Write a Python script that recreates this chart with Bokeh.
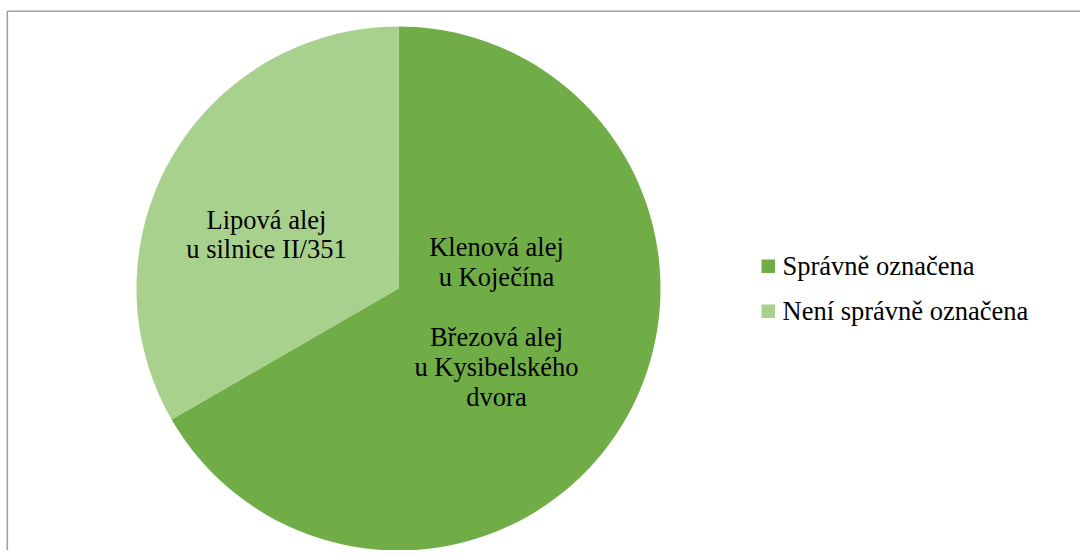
from bokeh.plotting import figure
from bokeh.models import Range1d, ColumnDataSource
from bokeh.core.properties import value
from bokeh.embed import file_html
from bokeh.resources import INLINE
import math

# ---- data ----
categories = ["Správně označena", "Není správně označena"]
counts = [2, 1]
colors = ["#70AD47", "#A9D18E"]
slice_labels = [
    ["Klenová alej", "u Koječína", "", "Březová alej", "u Kysibelského", "dvora"],
    ["Lipová alej", "u silnice II/351"],
]

# ---- layout (canvas pixels, y measured upward from bottom) ----
W, H = 1080, 550
TEXT_SHIFT = 9  # compensates the renderer's baseline offset

def Y(screen_y):
    return H - screen_y

def TY(screen_baseline):
    return H - (screen_baseline - TEXT_SHIFT)

cx, cy, r = 398, Y(288), 262
FONT = value("Liberation Serif")
FS = "26.5px"

p = figure(width=W, height=H, x_range=Range1d(0, W), y_range=Range1d(0, H),
           output_backend="svg", toolbar_location=None, min_border=0)
p.axis.visible = False
p.grid.visible = False
p.outline_line_color = None
p.background_fill_color = "white"
p.border_fill_color = "white"

# chart border (partially outside the window like in the reference)
p.line([6.8, 6.8, W], [0, Y(10.8), Y(10.8)], line_color="#A0A0A0", line_width=1.6)

# pie wedges, clockwise from 12 o'clock
total = sum(counts)
starts, ends = [], []
a = math.pi / 2
for c in counts:
    sweep = 2 * math.pi * c / total
    ends.append(a)
    starts.append(a - sweep)
    a -= sweep
src = ColumnDataSource(dict(start=starts, end=ends, color=colors))
p.wedge(x=cx, y=cy, radius=r, start_angle="start", end_angle="end",
        direction="anticlock", fill_color="color", line_color=None, source=src)

# data labels
label_pos = [(496, 255, 30), (266, 228, 29.5)]
for lines, (lx, base, lh) in zip(slice_labels, label_pos):
    xs, ys, ts = [], [], []
    for i, t in enumerate(lines):
        if t:
            xs.append(lx)
            ys.append(TY(base + i * lh))
            ts.append(t)
    p.text(x=xs, y=ys, text=ts, text_font=FONT, text_font_size=FS,
           text_align="center", text_baseline="alphabetic", text_color="black")

# legend
leg_x, leg_sq, leg_y0, leg_dy = 761, 13.5, 259, 45
for i, (cat, col) in enumerate(zip(categories, colors)):
    top = leg_y0 + i * leg_dy
    p.quad(left=leg_x, right=leg_x + leg_sq, top=Y(top), bottom=Y(top + leg_sq),
           fill_color=col, line_color=None)
    p.text(x=[leg_x + 21], y=[TY(top + 15)], text=[cat], text_font=FONT, text_font_size=FS,
           text_align="left", text_baseline="alphabetic", text_color="black")

open("out.html", "w").write(file_html(p, INLINE))
